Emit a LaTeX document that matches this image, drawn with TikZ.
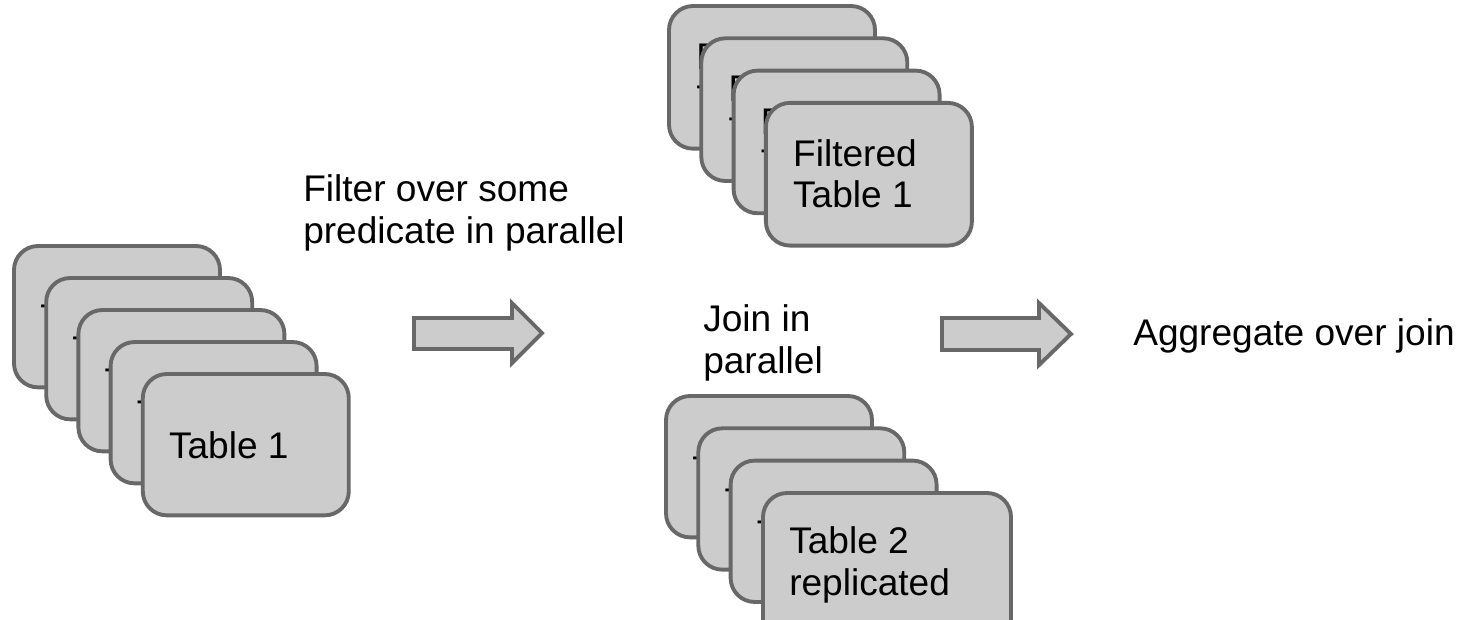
\documentclass[tikz,border=0pt]{standalone}
\usepackage{fontspec}
\setmainfont{Liberation Sans}
\definecolor{cardgray}{HTML}{CCCCCC}
\definecolor{linegray}{HTML}{686868}
\begin{document}
\begin{tikzpicture}[x=0.75pt,y=-0.75pt,
  card/.style={draw=linegray, fill=cardgray, line width=2.9pt, rounded corners=18pt,
    minimum width=154.5pt, minimum height=106pt, anchor=north west, inner sep=0pt, outer sep=0pt},
  lbl/.style={anchor=base west, inner sep=0pt, align=left, text=black,
    font=\fontsize{27.8}{31}\selectfont},
  blockarrow/.style={draw=linegray, fill=cardgray, line width=2.9pt}]
\useasboundingbox (0,0) rectangle (1462,619);
\clip (0,0) rectangle (1462,619);
% left stack
\foreach \i in {0,...,4}{
  \node[card] (L\i) at ({14+32.2*\i},{246+32*\i}) {};
  \node[lbl] (LT\i) at ([shift={(26,84)}]L\i.north west) {Table 1};
}
% top stack (base anchor = last line)
\foreach \i in {0,...,3}{
  \node[card, minimum height=107pt] (T\i) at ({669+32.3*\i},{6+32.3*\i}) {};
  \node[lbl] (TT\i) at ([shift={(27,105)}]T\i.north west) {Filtered\\Table 1};
}
% bottom stack
\foreach \i in {0,...,2}{
  \node[card] (B\i) at ({666+32.3*\i},{396+32.3*\i}) {};
  \node[lbl] (BT\i) at ([shift={(26,86)}]B\i.north west) {Table 2};
}
\node[card, minimum width=186pt, minimum height=120pt] (B3) at (763,493) {};
\node[lbl] (BT3) at ([shift={(26,102)}]B3.north west) {Table 2\\replicated};
% free texts
\node[lbl] (filter) at (303,243) {Filter over some\\predicate in parallel};
\node[lbl] (join) at (703,373) {Join in\\parallel};
\node[lbl] (agg) at (1133,345) {Aggregate over join};
% block arrows
\draw[blockarrow] (414,318) -- (512,318) -- (512,303) -- (542,333) -- (512,363) -- (512,349) -- (414,349) -- cycle;
\draw[blockarrow] (942,318) -- (1039,318) -- (1039,303) -- (1071,334) -- (1039,365) -- (1039,350) -- (942,350) -- cycle;
\end{tikzpicture}
\end{document}
